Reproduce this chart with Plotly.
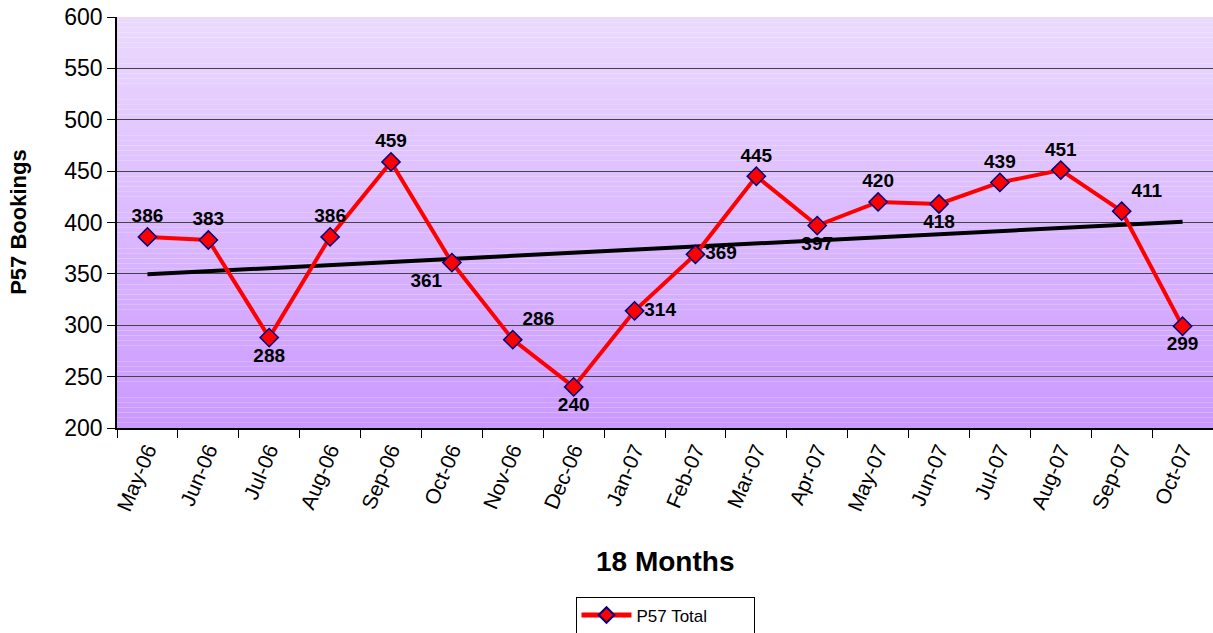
import numpy as np
import plotly.graph_objects as go

months = ["May-06", "Jun-06", "Jul-06", "Aug-06", "Sep-06", "Oct-06", "Nov-06", "Dec-06",
          "Jan-07", "Feb-07", "Mar-07", "Apr-07", "May-07", "Jun-07", "Jul-07", "Aug-07",
          "Sep-07", "Oct-07"]
p57_total = [386, 383, 288, 386, 459, 361, 286, 240, 314, 369, 445, 397, 420, 418, 439, 451, 411, 299]
y_ticks = [200, 250, 300, 350, 400, 450, 500, 550, 600]

label_pos = ["top center", "top center", "bottom center", "top center", "top center", "bottom left",
             "top right", "bottom center", "middle right", "middle right", "top center", "bottom center",
             "top center", "bottom center", "top center", "top center", "top right", "bottom center"]

FONT = "Arial, Liberation Sans, sans-serif"

# linear trend from data
idx = np.arange(len(p57_total))
slope, intercept = np.polyfit(idx, p57_total, 1)
trend = (slope * idx + intercept).tolist()

fig = go.Figure()

# gradient background via bands
n_bands = 80
top = np.array([235, 218, 254])
bot = np.array([203, 153, 255])
for i in range(n_bands):
    t = (i + 0.5) / n_bands
    c = top * (1 - t) + bot * t
    fig.add_shape(type="rect", xref="x domain", yref="y domain",
                  x0=0, x1=1, y0=1 - i / n_bands, y1=1 - (i + 1) / n_bands,
                  fillcolor="rgb(%d,%d,%d)" % tuple(c.round()), line_width=0, layer="below")

fig.add_trace(go.Scatter(
    x=months, y=trend, mode="lines", line=dict(color="black", width=4),
    showlegend=False, hoverinfo="skip"))

fig.add_trace(go.Scatter(
    x=months, y=p57_total, mode="lines+markers+text", name="P57 Total",
    line=dict(color="#FF0000", width=4),
    marker=dict(symbol="diamond", size=14, color="#FF0000", line=dict(color="#000080", width=1.5)),
    text=[str(v) for v in p57_total], textposition=label_pos, cliponaxis=False,
    textfont=dict(family=FONT, size=19, color="black", weight="bold")))

fig.update_layout(
    width=1213, height=633,
    margin=dict(l=117, r=0, t=17, b=205, autoexpand=False),
    paper_bgcolor="white", plot_bgcolor="rgba(0,0,0,0)",
    font=dict(family=FONT, color="black"),
    showlegend=True,
    legend=dict(orientation="h", x=0.5, xanchor="center", y=-0.41, yanchor="top",
                bordercolor="black", borderwidth=1, bgcolor="white", itemwidth=50,
                itemsizing="constant", entrywidth=112,
                font=dict(family=FONT, size=17)),
    xaxis=dict(type="category", range=[-0.5, 17.5], tickson="boundaries", automargin=False,
               ticks="outside", ticklen=8, tickcolor="black", showline=True, linecolor="black",
               linewidth=1.5, showgrid=False, tickangle=-67,
               tickfont=dict(family=FONT, size=21, color="black")),
    yaxis=dict(range=[200, 600], tickvals=y_ticks, ticks="outside", ticklen=8, tickcolor="black",
               automargin=False,
               showline=True, linecolor="black", linewidth=1.5, showgrid=True, gridcolor="#444444",
               gridwidth=1, zeroline=False, tickfont=dict(family=FONT, size=23, color="black")),
    annotations=[
        dict(text="<b>18 Months</b>", xref="paper", yref="paper", x=0.5, y=-0.325,
             xanchor="center", yanchor="middle", showarrow=False,
             font=dict(family=FONT, size=28, color="black")),
        dict(text="<b>P57 Bookings</b>", xref="paper", yref="paper", x=-0.09, y=0.5,
             xanchor="center", yanchor="middle", showarrow=False, textangle=-90,
             font=dict(family=FONT, size=22, color="black")),
    ],
)

fig.write_html("out.html", config={"displayModeBar": False},
               post_script="document.body.style.margin='0';document.body.style.overflow='hidden';")
